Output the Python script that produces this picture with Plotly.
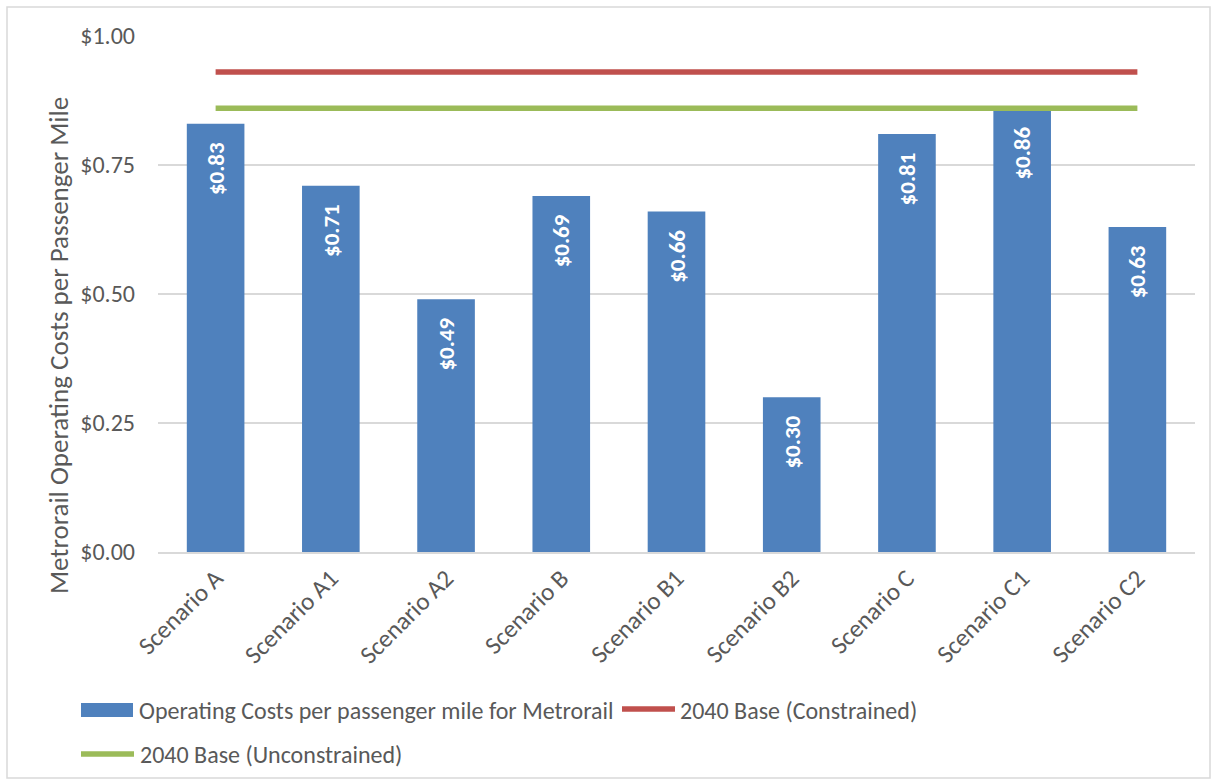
import plotly.graph_objects as go

# Scenario categories and Metrorail operating cost per passenger mile ($)
scenarios = ["Scenario A", "Scenario A1", "Scenario A2", "Scenario B", "Scenario B1",
             "Scenario B2", "Scenario C", "Scenario C1", "Scenario C2"]
cost_per_mile = [0.83, 0.71, 0.49, 0.69, 0.66, 0.30, 0.81, 0.86, 0.63]

# 2040 base reference levels
base_constrained = 0.93
base_unconstrained = 0.86

tick_vals = [0, 0.25, 0.5, 0.75, 1.0]
tick_text = ["$0.00", "$0.25", "$0.50", "$0.75", "$1.00"]

FONT = "Calibri, Carlito, Lato, sans-serif"
TEXT_GRAY = "#595959"
BLUE = "#4F81BD"
RED = "#C0504D"
GREEN = "#9BBB59"

BAR_NAME = "Operating Costs per passenger mile for Metrorail"
RED_NAME = "2040 Base (Constrained)"
GREEN_NAME = "2040 Base (Unconstrained)"

# plot-area geometry in pixels, used to place the hand-built legend
L, R, T, B = 158, 20, 36, 231
W, H = 1215, 783
PW, PH = W - L - R, H - T - B


def px(x):
    return (x - L) / PW


def py(y):
    return (H - B - y) / PH


fig = go.Figure()

fig.add_trace(go.Bar(
    x=scenarios,
    y=cost_per_mile,
    name=BAR_NAME,
    marker=dict(color=BLUE, line=dict(width=0)),
    text=[f"${v:.2f}" + "\u00a0" * 3 for v in cost_per_mile],
    textposition="inside",
    insidetextanchor="end",
    textangle=-90,
    textfont=dict(family=FONT, size=23, color="white", weight="bold"),
    hoverinfo="skip",
    showlegend=False,
))

fig.add_trace(go.Scatter(
    x=scenarios,
    y=[base_constrained] * len(scenarios),
    mode="lines",
    name=RED_NAME,
    line=dict(color=RED, width=5.5),
    showlegend=False,
))

fig.add_trace(go.Scatter(
    x=scenarios,
    y=[base_unconstrained] * len(scenarios),
    mode="lines",
    name=GREEN_NAME,
    line=dict(color=GREEN, width=5.5),
    showlegend=False,
))

# legend swatches (Excel style: wide rectangle for bars, long stroke for lines)
shapes = [
    dict(type="rect", xref="paper", yref="paper",
         x0=px(81), x1=px(133), y0=py(717), y1=py(703),
         fillcolor=BLUE, line=dict(width=0)),
    dict(type="line", xref="paper", yref="paper",
         x0=px(622), x1=px(675), y0=py(709), y1=py(709),
         line=dict(color=RED, width=5.5)),
    dict(type="line", xref="paper", yref="paper",
         x0=px(81), x1=px(134), y0=py(754), y1=py(754),
         line=dict(color=GREEN, width=5.5)),
    # outer chart border
    dict(type="rect", xref="paper", yref="paper",
         x0=px(7), x1=px(1210), y0=py(778), y1=py(7),
         line=dict(color="#D9D9D9", width=1.5),
         fillcolor="rgba(0,0,0,0)", layer="below"),
]

legend_font = dict(family=FONT, size=24, color=TEXT_GRAY)
annotations = [
    dict(text=BAR_NAME, xref="paper", yref="paper", x=px(137), y=py(710),
         xanchor="left", yanchor="middle", showarrow=False, font=legend_font),
    dict(text=RED_NAME, xref="paper", yref="paper", x=px(678), y=py(710),
         xanchor="left", yanchor="middle", showarrow=False, font=legend_font),
    dict(text=GREEN_NAME, xref="paper", yref="paper", x=px(138), y=py(754),
         xanchor="left", yanchor="middle", showarrow=False, font=legend_font),
    # y-axis title
    dict(text="Metrorail Operating Costs per Passenger Mile", xref="paper", yref="paper",
         x=px(58), y=py(346), xanchor="center", yanchor="middle", textangle=-90,
         showarrow=False, font=dict(family=FONT, size=27, color=TEXT_GRAY)),
]

fig.update_layout(
    width=W,
    height=H,
    paper_bgcolor="white",
    plot_bgcolor="white",
    margin=dict(l=L, r=R, t=T, b=B),
    bargap=0.5,
    font=dict(family=FONT, size=24, color=TEXT_GRAY),
    showlegend=False,
    xaxis=dict(
        tickangle=-45,
        tickfont=dict(family=FONT, size=25, color=TEXT_GRAY),
        showline=True,
        linecolor="#D9D9D9",
        linewidth=1.5,
        showgrid=False,
        ticks="",
    ),
    yaxis=dict(
        range=[0, 1.0],
        tickvals=tick_vals,
        ticktext=tick_text,
        tickfont=dict(family=FONT, size=24, color=TEXT_GRAY),
        gridcolor="#D9D9D9",
        gridwidth=1.5,
        zeroline=False,
        showline=False,
        ticks="",
        ticklabelstandoff=22,
    ),
    shapes=shapes,
    annotations=annotations,
)

fig.write_html("out.html")
